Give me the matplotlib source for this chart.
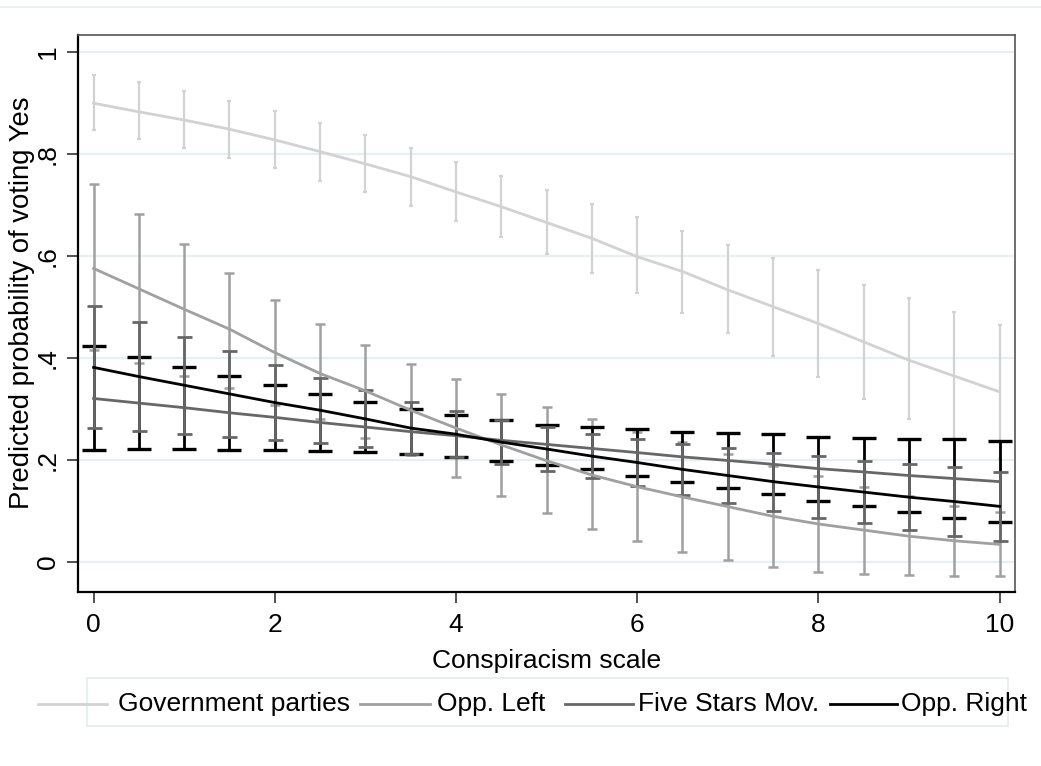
import matplotlib
matplotlib.use("Agg")
import matplotlib.pyplot as plt
from matplotlib.lines import Line2D
from matplotlib.patches import Rectangle
import numpy as np

plt.rcParams['font.family'] = ['Liberation Sans', 'DejaVu Sans']

# ---------------- data ----------------
conspiracism = [0, 0.5, 1, 1.5, 2, 2.5, 3, 3.5, 4, 4.5, 5, 5.5, 6, 6.5, 7, 7.5, 8, 8.5, 9, 9.5, 10]

gov_mean = [0.899, 0.882, 0.866, 0.848, 0.827, 0.804, 0.780, 0.755, 0.725, 0.696, 0.665,
            0.634, 0.598, 0.569, 0.533, 0.500, 0.467, 0.431, 0.395, 0.364, 0.333]
gov_hi = [0.954, 0.940, 0.922, 0.904, 0.884, 0.861, 0.837, 0.811, 0.783, 0.756, 0.729,
          0.701, 0.675, 0.648, 0.621, 0.596, 0.571, 0.543, 0.518, 0.490, 0.464]
gov_lo = [0.846, 0.829, 0.811, 0.791, 0.771, 0.746, 0.724, 0.697, 0.668, 0.637, 0.603,
          0.567, 0.527, 0.488, 0.448, 0.403, 0.362, 0.319, 0.279, 0.238, 0.202]

left_mean = [0.575, 0.535, 0.495, 0.456, 0.410, 0.369, 0.335, 0.297, 0.262, 0.229, 0.198,
             0.170, 0.147, 0.127, 0.108, 0.089, 0.074, 0.062, 0.050, 0.041, 0.034]
left_hi = [0.740, 0.682, 0.623, 0.567, 0.513, 0.466, 0.424, 0.388, 0.358, 0.329, 0.304,
           0.279, 0.254, 0.235, 0.211, 0.188, 0.168, 0.147, 0.129, 0.110, 0.097]
left_lo = [0.415, 0.390, 0.364, 0.340, 0.307, 0.280, 0.243, 0.209, 0.167, 0.129, 0.0955,
           0.0635, 0.040, 0.020, 0.003, -0.011, -0.020, -0.024, -0.026, -0.028, -0.028]

m5s_mean = [0.320, 0.311, 0.302, 0.292, 0.283, 0.273, 0.264, 0.255, 0.247, 0.238, 0.230,
            0.222, 0.214, 0.2055, 0.1985, 0.191, 0.1825, 0.176, 0.169, 0.163, 0.157]
m5s_hi = [0.422, 0.401, 0.382, 0.364, 0.346, 0.328, 0.313, 0.299, 0.288, 0.277, 0.269,
          0.2635, 0.2595, 0.255, 0.252, 0.250, 0.245, 0.243, 0.241, 0.240, 0.237]
m5s_lo = [0.219, 0.221, 0.221, 0.219, 0.219, 0.217, 0.215, 0.211, 0.205, 0.198, 0.190,
          0.181, 0.169, 0.156, 0.145, 0.133, 0.120, 0.109, 0.097, 0.086, 0.077]

right_mean = [0.381, 0.363, 0.346, 0.329, 0.312, 0.297, 0.280, 0.262, 0.250, 0.2345, 0.221,
              0.207, 0.1945, 0.181, 0.169, 0.157, 0.1465, 0.1365, 0.1265, 0.118, 0.1085]
right_hi = [0.501, 0.470, 0.441, 0.414, 0.386, 0.361, 0.336, 0.313, 0.2955, 0.277, 0.2635,
            0.250, 0.241, 0.231, 0.2235, 0.214, 0.207, 0.198, 0.1916, 0.186, 0.176]
right_lo = [0.262, 0.256, 0.250, 0.244, 0.239, 0.232, 0.224, 0.211, 0.205, 0.192, 0.178,
            0.1635, 0.148, 0.131, 0.115, 0.099, 0.086, 0.075, 0.0615, 0.050, 0.041]

series_labels = ["Government parties", "Opp. Left", "Five Stars Mov.", "Opp. Right"]
x_ticks = [0, 2, 4, 6, 8, 10]
y_ticks = [0, 0.2, 0.4, 0.6, 0.8, 1.0]
y_tick_labels = ["0", ".2", ".4", ".6", ".8", "1"]

# ---------------- figure ----------------
W, H = 1041, 766
FS = 19
fig = plt.figure(figsize=(W / 100, H / 100), dpi=100)
ax = fig.add_axes([78 / W, 1 - 592 / H, (1015 - 78) / W, (592 - 35) / H])

c_gov = '#d2d2d2'
c_left = '#a0a0a0'
c_m5s = '#676767'
c_right = '#000000'

x = np.array(conspiracism)

def ci(mean, lo, hi, color, cap, lw, capw):
    mean = np.array(mean)
    yerr = [mean - np.array(lo), np.array(hi) - mean]
    ax.errorbar(x, mean, yerr=yerr, fmt='none', ecolor=color, elinewidth=lw,
                capsize=cap, capthick=capw, zorder=2)

# confidence intervals (colours as in the original figure)
ci(gov_mean, gov_lo, gov_hi, c_gov, 1.2, 1.6, 1.6)
ci(left_mean, left_lo, left_hi, c_left, 3.3, 1.8, 1.8)
ci(m5s_mean, m5s_lo, m5s_hi, c_right, 8.6, 2.0, 2.4)
ci(right_mean, right_lo, right_hi, c_m5s, 5.4, 2.0, 2.0)

# predicted lines
ax.plot(x, gov_mean, color=c_gov, lw=2.0, zorder=3)
ax.plot(x, left_mean, color=c_left, lw=2.0, zorder=3)
ax.plot(x, m5s_mean, color=c_m5s, lw=2.0, zorder=3)
ax.plot(x, right_mean, color=c_right, lw=2.0, zorder=4)

ax.set_xlim(-0.172, 10.17)
ax.set_ylim(-0.0594, 1.0327)

ax.set_yticks(y_ticks)
ax.set_yticklabels(y_tick_labels, rotation=90, va='center', fontsize=FS)
ax.set_xticks(x_ticks)
ax.set_xticklabels([str(t) for t in x_ticks], fontsize=FS)
ax.tick_params(axis='both', length=8, width=1.2, color='#333333')
ax.tick_params(axis='x', pad=7)
ax.tick_params(axis='y', pad=5)

ax.grid(axis='y', color='#e6eff1', lw=1.6, zorder=0)
ax.set_axisbelow(True)

for side in ['left', 'bottom']:
    ax.spines[side].set_color('#000000')
    ax.spines[side].set_linewidth(1.6)
for side in ['top', 'right']:
    ax.spines[side].set_color('#555555')
    ax.spines[side].set_linewidth(1.2)

ax.set_xlabel("Conspiracism scale", fontsize=FS, labelpad=9)
ax.set_ylabel("Predicted probability of voting Yes", fontsize=19.8)
ax.yaxis.set_label_coords(-0.046, 0.52)

# faint outer border line at top (graph region)
fig.add_artist(Line2D([0, 1], [1 - 7 / H, 1 - 7 / H], transform=fig.transFigure,
                      color='#e8efef', lw=1.2))

# ---------------- legend (Stata-like) ----------------
def fx(px):
    return px / W

def fy(py):
    return 1 - py / H

fig.add_artist(Rectangle((fx(87), fy(726)), fx(1008) - fx(87), fy(678) - fy(726),
                         transform=fig.transFigure, fill=False, edgecolor='#e3ecec', lw=1.2))
handles = [(38, 107, 118, c_gov), (360, 430, 437, c_left),
           (565, 633, 638, c_m5s), (830, 897, 901, c_right)]
ly = 704
for (x0, x1, tx, col), lab in zip(handles, series_labels):
    fig.add_artist(Line2D([fx(x0), fx(x1)], [fy(ly), fy(ly)], transform=fig.transFigure,
                          color=col, lw=2.0))
    fig.text(fx(tx), fy(ly), lab, fontsize=FS, va='center', ha='left')

fig.savefig("out.png", dpi=100)
